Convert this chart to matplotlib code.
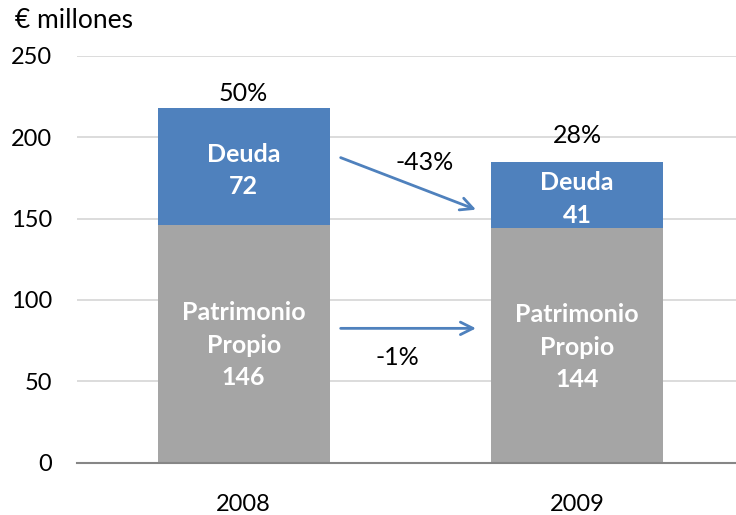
import matplotlib
matplotlib.use("Agg")
import matplotlib.pyplot as plt

years = ["2008", "2009"]
patrimonio = [146, 144]
deuda = [72, 41]
ratio_labels = ["50%", "28%"]
change_deuda = "-43%"
change_patrimonio = "-1%"
yticks = [0, 50, 100, 150, 200, 250]

GRAY = "#A5A5A5"
BLUE = "#4F81BD"
FONT = "Lato"

fig = plt.figure(figsize=(7.36, 5.15), dpi=100)
ax = fig.add_axes([77/736, 1-462.5/515, 1-77/736, (462.5-56)/515])

x = list(range(len(years)))
w = 0.517
ax.bar(x, patrimonio, width=w, color=GRAY, zorder=2)
ax.bar(x, deuda, width=w, bottom=patrimonio, color=BLUE, zorder=2)

ax.set_xlim(-0.5, 1.477)
ax.set_ylim(0, 250)
ax.set_yticks(yticks)
ax.yaxis.grid(True, color="#D9D9D9", lw=1.3, zorder=0)
ax.set_axisbelow(True)
for s in ["top", "right", "left"]:
    ax.spines[s].set_visible(False)
ax.spines["bottom"].set_color("#868686")
ax.spines["bottom"].set_linewidth(1.5)
ax.spines["bottom"].set_zorder(3)
ax.tick_params(length=0)
ax.set_xticks(x)
ax.set_xticklabels(years, fontsize=17, fontname=FONT)
ax.tick_params(axis="x", pad=23)
ax.tick_params(axis="y", pad=18)
for lbl in ax.get_yticklabels():
    lbl.set_fontsize(17)
    lbl.set_fontname(FONT)

ratio_offset = [9, 16]
for i in x:
    ax.text(i, patrimonio[i] / 2 - 1, f"Patrimonio\nPropio\n{patrimonio[i]}",
            ha="center", va="center", color="white", fontsize=18,
            fontweight="bold", fontname=FONT, linespacing=1.5, zorder=4)
    ax.text(i, patrimonio[i] + deuda[i] / 2 - 2.5, f"Deuda\n{deuda[i]}",
            ha="center", va="center", color="white", fontsize=18,
            fontweight="bold", fontname=FONT, linespacing=1.5, zorder=4)
    ax.text(i, patrimonio[i] + deuda[i] + ratio_offset[i], ratio_labels[i],
            ha="center", va="center", color="black", fontsize=18, fontname=FONT)

ax.annotate("", xy=(0.697, 155.5), xytext=(0.291, 187.5),
            arrowprops=dict(arrowstyle="->,head_length=0.9,head_width=0.45",
                            color=BLUE, lw=2, shrinkA=0, shrinkB=0))
ax.annotate("", xy=(0.697, 82.5), xytext=(0.291, 82.5),
            arrowprops=dict(arrowstyle="->,head_length=0.9,head_width=0.45",
                            color=BLUE, lw=2, shrinkA=0, shrinkB=0))
ax.text(0.544, 184.5, change_deuda, ha="center", va="center",
        fontsize=18, fontname=FONT)
ax.text(0.462, 64.5, change_patrimonio, ha="center", va="center",
        fontsize=18, fontname=FONT)

fig.text(15/736, 1-21/515, "€ millones", ha="left", va="center",
         fontsize=19, fontname=FONT)

fig.savefig("out.png", dpi=100)
